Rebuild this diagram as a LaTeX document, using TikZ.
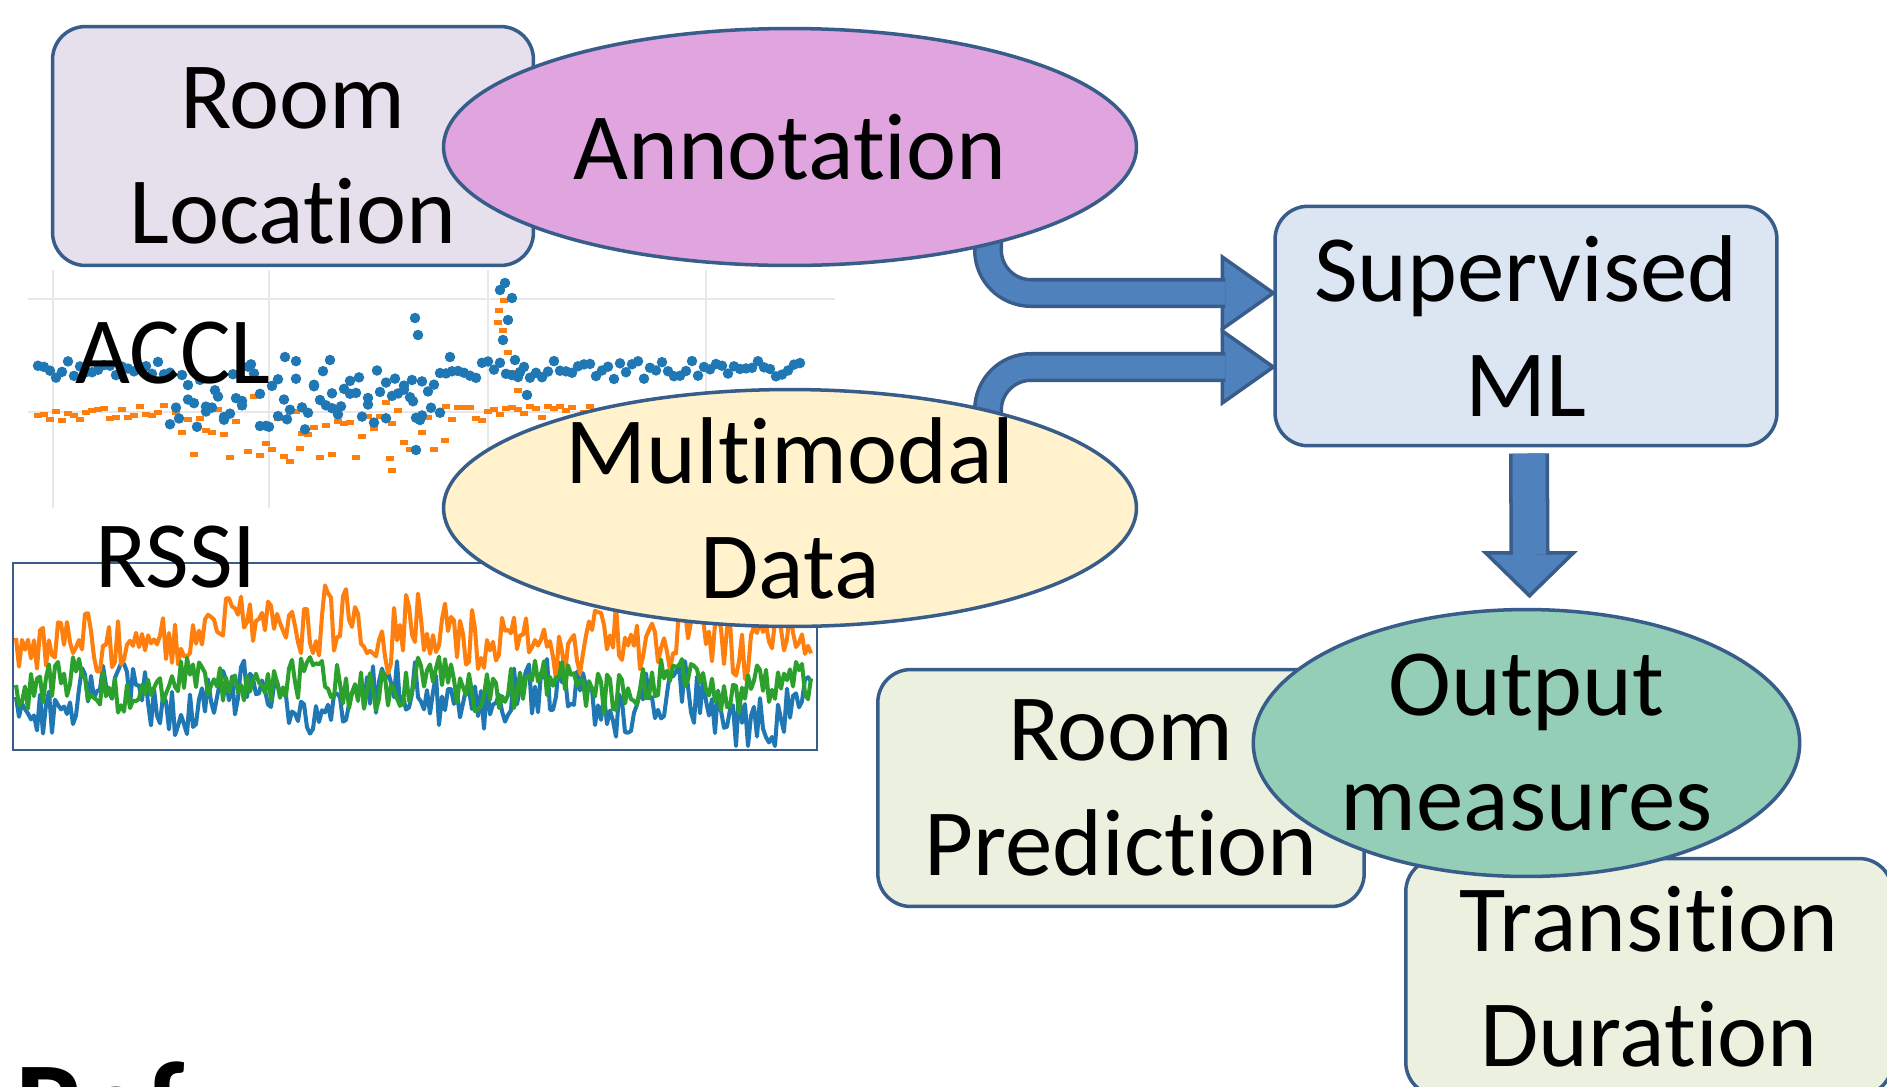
\documentclass[tikz,border=0pt]{standalone}
\usepackage{fontspec}
\setmainfont{Carlito}[Ligatures={NoCommon,NoRequired,NoContextual}]
\usepackage{xcolor}
\usetikzlibrary{positioning, calc, shapes.geometric, backgrounds}
\definecolor{outline}{RGB}{56,93,138}
\definecolor{arrowblue}{RGB}{79,129,189}
\definecolor{lavender}{RGB}{230,224,236}
\definecolor{orchid}{RGB}{224,165,222}
\definecolor{cream}{RGB}{255,242,204}
\definecolor{paleblue}{RGB}{220,230,242}
\definecolor{seagreen}{RGB}{148,206,183}
\definecolor{paleolive}{RGB}{235,241,222}
\definecolor{mplblue}{RGB}{31,119,180}
\definecolor{mplorange}{RGB}{255,127,14}
\definecolor{mplgreen}{RGB}{44,160,44}
\newcommand{\slidefont}{\fontsize{54}{65.5}\selectfont}
\newcommand{\nolig}{\kern0pt }
\tikzset{
  box/.style={
    rectangle, rounded corners=0.66cm, draw=outline, line width=2pt,
    align=center, font=\slidefont, inner sep=0pt
  },
  blob/.style={
    ellipse, draw=outline, line width=2pt, align=center,
    font=\slidefont, inner xsep=0pt, inner ysep=-0.8cm
  },
  shaft/.style={draw=outline, line width=2pt, double=arrowblue, double distance=0.46cm},
  head/.style={fill=arrowblue, draw=outline, line width=2pt, line join=miter},
  gridline/.style={draw=black!9, line width=1.1pt},
  trace/.style={line width=2.3pt, line join=round},
  chartlabel/.style={font=\slidefont, anchor=base, inner sep=0pt},
}

\begin{document}
\begin{tikzpicture}[x=0.02cm, y=-0.02cm]
  \useasboundingbox (0,0) rectangle (1887,1086);

  % Annotation
  \node[box, fill=lavender, minimum width=9.62cm, minimum height=4.78cm] (roomloc) at (293,146) {\rule{0pt}{46pt}Room\\Locat\nolig ion};
  \node[blob, fill=orchid, minimum width=13.86cm, minimum height=4.74cm] (annot) at (790,147) {Annotat\nolig ion};

  % ACCL chart
  \foreach \gy in {299,412} {
    \draw[gridline] (28,\gy) -- (835,\gy);
  }
  \foreach \gx in {53,269,488,706} {
    \draw[gridline] (\gx,270) -- (\gx,508);
  }
  \pgfmathsetseed{42}
  \foreach \x in {38,44,...,800} {
    \pgfmathsetmacro{\yo}{414+8*rand+(\x>160)*(\x<440)*(60*rnd-12)}
    \fill[mplorange] (\x,\yo) +(-4,-2.5) rectangle +(4,2.5);
  }
  \foreach \x/\y in {499/310,503/330,508/352,512/372,518/390,504/300,498/322,
                     392/470,390/458,300/448,445/440} {
    \fill[mplorange] (\x,\y) +(-4,-2.5) rectangle +(4,2.5);
  }
  \foreach \x in {38,44,...,802} {
    \pgfmathsetmacro{\yb}{370+9*rand+(\x>160)*(\x<440)*55*rnd}
    \fill[mplblue] (\x,\yb) circle[radius=3pt];
  }
  \foreach \x in {170,179,...,440} {
    \pgfmathsetmacro{\yb}{395+35*rand}
    \fill[mplblue] (\x,\yb) circle[radius=3pt];
  }
  \foreach \x/\y in {500/290,505/283,512/298,508/320,503/340,515/360,520/372,527/395,
                     285/357,330/360,415/318,418/335,412/380,420/420,416/450,450/357} {
    \fill[mplblue] (\x,\y) circle[radius=3pt];
  }
  \node[chartlabel] (accl) at (173,383) {ACCL};

  % RSSI chart
  \draw[trace, mplblue] (16,697) \foreach \x in {19,22,...,812} {
    -- (\x,{max(567,min(746,697+28*rand+12*sin(2.5*\x)+(\x>690)*25*rnd))}) };
  \draw[trace, mplorange] (16,638) \foreach \x in {19,22,...,812} {
    -- (\x,{max(567,min(746,640+30*rand+12*sin(4*\x)-(\x>200)*(\x<480)*22*rnd))}) };
  \draw[trace, mplgreen] (16,685) \foreach \x in {19,22,...,812} {
    -- (\x,{max(567,min(746,685+21*rand+9*sin(3*\x+60)))}) };
  \draw[draw=outline, line width=1.5pt] (13,563) rectangle (817,750);
  \node[chartlabel] (rssi) at (176,587) {RSSI};

  \node[blob, fill=cream, minimum width=13.86cm, minimum height=4.74cm] (multi) at (790,508) {Multimodal\\Data};

  % Learner
  \node[box, fill=paleblue, minimum width=10.04cm, minimum height=4.79cm] (superv) at (1526,326) {Supervised\\ML};

  % Outputs
  \node[box, fill=paleolive, minimum width=9.73cm, minimum height=4.74cm] (roompred) at (1121,788) {Room\\Predict\nolig ion};
  \node[box, fill=paleolive, minimum width=9.73cm, minimum height=4.74cm] (transdur) at (1649,977) {Transit\nolig ion\\Durat\nolig ion};
  \node[blob, fill=seagreen, minimum width=10.93cm, minimum height=5.34cm] (outm) at (1526.5,743) {Output\\measures};

  % Arrows
  \coordinate (tipA) at ($(superv.west)+(0,-33)$);
  \coordinate (tipM) at ($(superv.west)+(0,41)$);
  \coordinate (srcA) at ($(annot.center)+(198,88)$);
  \coordinate (srcM) at ($(multi.center)+(198,-85)$);
  \begin{scope}[on background layer]
    \draw[head] (tipA) -- ++(-51,-36) -- ++(0,72) -- cycle;
    \draw[head] (tipM) -- ++(-51,-36) -- ++(0,72) -- cycle;
    \draw[shaft, rounded corners=0.86cm] (srcA) |- ($(tipA)+(-48,0)$);
    \draw[shaft, rounded corners=0.86cm] (srcM) |- ($(tipM)+(-48,0)$);
  \end{scope}
  \coordinate (dtop) at ($(superv.south)+(3,6)$);
  \coordinate (dtip) at ($(outm.north)+(3,-12)$);
  \draw[head] (dtip) -- ++(-44,-43) -- ++(88,0) -- cycle;
  \draw[shaft, double distance=0.66cm] (dtop) -- ($(dtip)+(0,-41)$);

  \node[font=\fontsize{71}{85}\selectfont\bfseries, anchor=base west, inner sep=0pt] (refs) at (15,1148) {Ref};
\end{tikzpicture}
\end{document}
